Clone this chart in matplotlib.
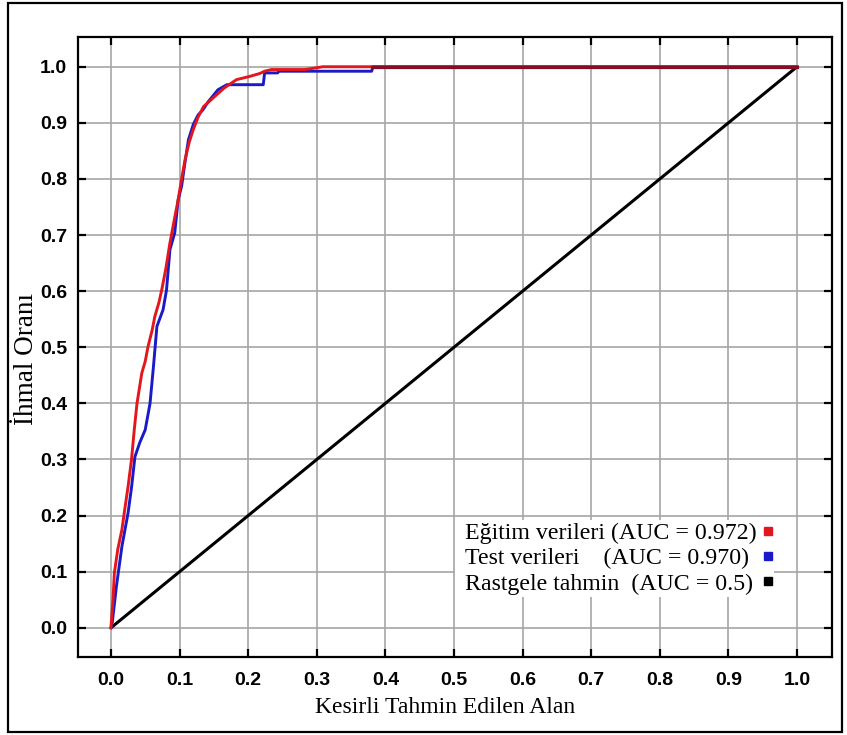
import matplotlib
matplotlib.use("Agg")
import matplotlib.pyplot as plt
from matplotlib.lines import Line2D
from matplotlib.patches import Rectangle

# ---- data ----
red_x = [0.0, 0.003, 0.005, 0.010, 0.016, 0.020, 0.025, 0.030, 0.034, 0.038, 0.045, 0.050,
         0.054, 0.060, 0.064, 0.070, 0.074, 0.080, 0.086, 0.092, 0.098, 0.103, 0.108, 0.114,
         0.120, 0.127, 0.135, 0.145, 0.154, 0.165, 0.183, 0.203, 0.217, 0.224, 0.234, 0.283,
         0.309, 0.380, 1.0]
red_y = [0.0, 0.05, 0.098, 0.14, 0.175, 0.21, 0.252, 0.30, 0.353, 0.40, 0.454, 0.475,
         0.501, 0.53, 0.555, 0.58, 0.602, 0.64, 0.686, 0.725, 0.763, 0.80, 0.834, 0.865,
         0.888, 0.91, 0.929, 0.94, 0.950, 0.962, 0.977, 0.983, 0.988, 0.992, 0.995, 0.995,
         1.0, 1.0, 1.0]

blue_x = [0.0, 0.002, 0.008, 0.016, 0.025, 0.030, 0.035, 0.042, 0.050, 0.057, 0.062, 0.067,
          0.076, 0.081, 0.086, 0.093, 0.098, 0.103, 0.108, 0.113, 0.120, 0.127, 0.134, 0.142,
          0.156, 0.169, 0.222, 0.224, 0.243, 0.245, 0.380, 0.382, 1.0]
blue_y = [0.0, 0.01, 0.074, 0.145, 0.205, 0.25, 0.305, 0.33, 0.353, 0.40, 0.466, 0.537,
          0.567, 0.602, 0.674, 0.704, 0.763, 0.787, 0.83, 0.870, 0.897, 0.914, 0.923, 0.938,
          0.959, 0.968, 0.968, 0.989, 0.989, 0.992, 0.992, 1.0, 1.0]

rand_x = [0.0, 1.0]
rand_y = [0.0, 1.0]

ticks = [0.0, 0.1, 0.2, 0.3, 0.4, 0.5, 0.6, 0.7, 0.8, 0.9, 1.0]
tick_labels = ["0.0", "0.1", "0.2", "0.3", "0.4", "0.5", "0.6", "0.7", "0.8", "0.9", "1.0"]

labels = ["Eğitim verileri (AUC = 0.972)",
          "Test verileri    (AUC = 0.970)",
          "Rastgele tahmin  (AUC = 0.5)"]
xlabel = "Kesirli Tahmin Edilen Alan"
ylabel = "İhmal Oranı"

RED = "#e3161e"
BLUE = "#1a1ac8"
MAROON = "#860c28"
SERIF = ["Liberation Serif", "DejaVu Serif"]
TICKF = ["Liberation Sans", "DejaVu Sans"]

W, H = 847, 735
fig = plt.figure(figsize=(W / 100, H / 100), dpi=100)
fig.patch.set_facecolor("white")

L, R, T, B = 78, 832, 37, 657
ax = fig.add_axes([L / W, 1 - B / H, (R - L) / W, (B - T) / H])

ax.plot(rand_x, rand_y, color="black", lw=2.2, zorder=3, solid_capstyle="butt")
ax.plot(blue_x, blue_y, color=BLUE, lw=2.1, zorder=4)
ax.plot(red_x, red_y, color=RED, lw=2.1, zorder=5)
ax.plot(red_x[-2:], red_y[-2:], color=MAROON, lw=2.3, zorder=6)

ax.set_xlim(-0.048, 1.051)
ax.set_ylim(-0.052, 1.053)
ax.set_xticks(ticks)
ax.set_yticks(ticks)
ax.set_xticklabels(tick_labels, family=TICKF, fontweight="bold", fontsize=14)
ax.set_yticklabels(tick_labels, family=TICKF, fontweight="bold", fontsize=14)
ax.tick_params(axis="both", direction="in", length=6, width=1.6, color="black",
               top=True, right=True)
ax.tick_params(axis="x", pad=11)
ax.tick_params(axis="y", pad=8)
ax.grid(True, color="#a6a6a6", lw=1.2, zorder=0)
ax.set_axisbelow(True)
for s in ax.spines.values():
    s.set_linewidth(1.6)
    s.set_color("black")

ax.set_xlabel(xlabel, family=SERIF, fontsize=17, va="center")
ax.xaxis.set_label_coords(0.487, -0.082)
ax.set_ylabel(ylabel, family=SERIF, fontsize=19.5, va="center")
ax.yaxis.set_label_coords(-0.068, 0.481)

# legend: column 1 = texts (blank handles), column 2 = colour squares
blank = [Line2D([], [], ls="none", marker=None) for _ in labels]
marks = [Line2D([], [], ls="none", marker="s", markersize=5.5, color=c)
         for c in (RED, BLUE, "black")]
leg = ax.legend(blank + marks, labels + ["", "", ""], ncol=2, loc="upper left",
                bbox_to_anchor=((455 - L) / (R - L), (B - 520) / (B - T)),
                borderaxespad=0, borderpad=0.1, handlelength=0.3, handletextpad=0.0,
                columnspacing=0.35, labelspacing=0.15,
                frameon=True, fancybox=False, framealpha=1.0,
                prop={"family": SERIF, "size": 17.2})
leg.get_frame().set_edgecolor("none")
leg.get_frame().set_facecolor("white")
leg.set_zorder(10)

fig.patches.append(Rectangle((8 / W, 1 - 732 / H), (842 - 8) / W, (732 - 3) / H,
                             transform=fig.transFigure, fill=False,
                             edgecolor="black", lw=1.6))

fig.savefig("out.png", dpi=100, facecolor="white")
